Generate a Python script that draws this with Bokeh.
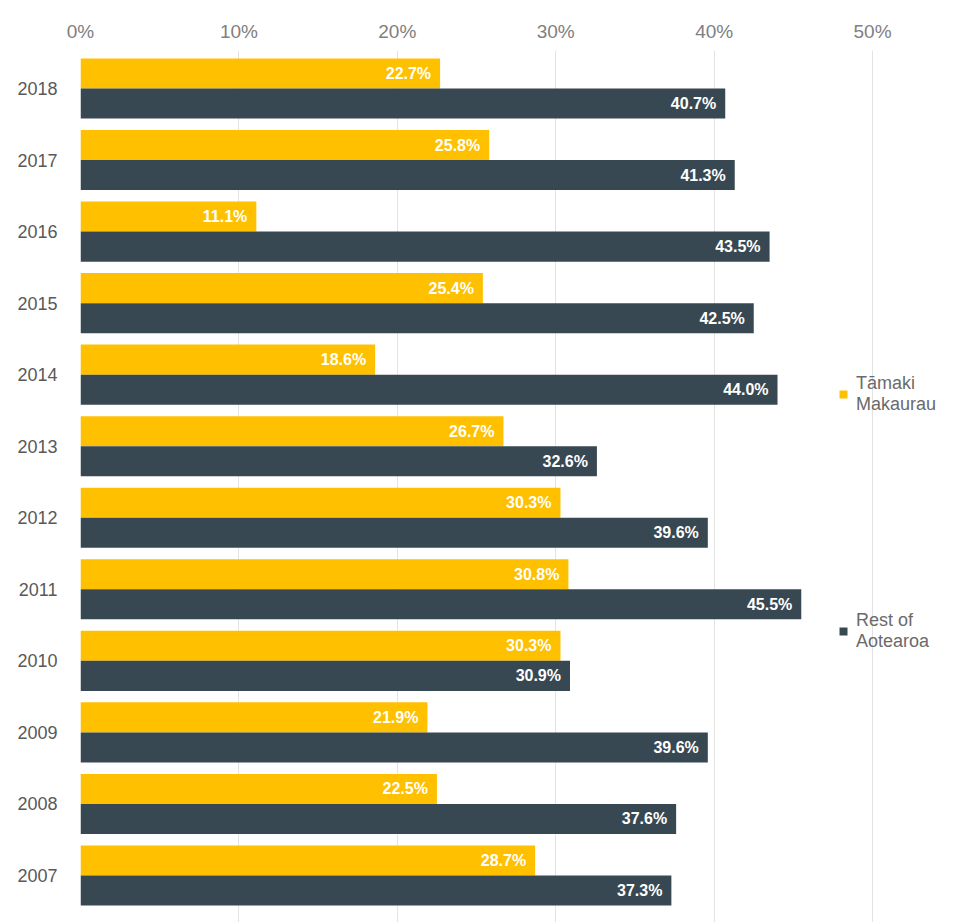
from bokeh.plotting import figure
from bokeh.models import ColumnDataSource, Range1d, FixedTicker, NumeralTickFormatter, Legend, LegendItem
from bokeh.embed import file_html
from bokeh.resources import INLINE
from bokeh.core.properties import value

years = ["2018", "2017", "2016", "2015", "2014", "2013", "2012", "2011", "2010", "2009", "2008", "2007"]
tamaki = [22.7, 25.8, 11.1, 25.4, 18.6, 26.7, 30.3, 30.8, 30.3, 21.9, 22.5, 28.7]
rest = [40.7, 41.3, 43.5, 42.5, 44.0, 32.6, 39.6, 45.5, 30.9, 39.6, 37.6, 37.3]
x_ticks = [0, 0.1, 0.2, 0.3, 0.4, 0.5]

YELLOW = "#FFC000"
DARK = "#384852"
FONT = "Liberation Sans"

pos = [-i for i in range(len(years))]
src_t = ColumnDataSource(dict(y=[p + 0.21 for p in pos], v=[t / 100 for t in tamaki],
                              lab=[f"{t:.1f}%" for t in tamaki]))
src_r = ColumnDataSource(dict(y=[p - 0.21 for p in pos], v=[r / 100 for r in rest],
                              lab=[f"{r:.1f}%" for r in rest]))

p = figure(width=966, height=922, output_backend="svg", toolbar_location=None,
           x_axis_location="above", x_range=Range1d(0, 0.5593),
           y_range=Range1d(-11.657, 0.531),
           min_border_left=80, min_border_right=0, min_border_top=50, min_border_bottom=0)
p.outline_line_color = None

r1 = p.hbar(y="y", left=0, right="v", height=0.42, source=src_t, fill_color=YELLOW, line_color=None)
r2 = p.hbar(y="y", left=0, right="v", height=0.42, source=src_r, fill_color=DARK, line_color=None)

for src in (src_t, src_r):
    p.text(x="v", y="y", text="lab", source=src, text_align="right", text_baseline="middle",
           x_offset=-9, text_color="white", text_font=value(FONT), text_font_style="bold",
           text_font_size="16px")

xa = p.xaxis[0]
xa.ticker = FixedTicker(ticks=x_ticks)
xa.formatter = NumeralTickFormatter(format="0%")
xa.axis_line_color = None
xa.major_tick_line_color = None
xa.minor_tick_line_color = None
xa.major_label_text_font = FONT
xa.major_label_text_font_size = "19px"
xa.major_label_text_color = "#808080"
xa.major_label_standoff = 3

ya = p.yaxis[0]
ya.ticker = FixedTicker(ticks=pos)
ya.major_label_overrides = {pp: y for pp, y in zip(pos, years)}
ya.axis_line_color = None
ya.major_tick_line_color = None
ya.minor_tick_line_color = None
ya.major_label_text_font = FONT
ya.major_label_text_font_size = "18px"
ya.major_label_text_color = "#595959"
ya.major_label_standoff = 17

p.xgrid.ticker = FixedTicker(ticks=x_ticks)
p.xgrid.grid_line_color = "#e3e3e3"
p.ygrid.grid_line_color = None

legend = Legend(items=[LegendItem(label="Tāmaki\nMakaurau", renderers=[r1]),
                       LegendItem(label="Rest of\nAotearoa", renderers=[r2])],
                location=(758, 270), orientation="vertical",
                glyph_width=10, glyph_height=10, spacing=195,
                label_text_font=FONT, label_text_font_size="18px", label_text_color="#6a6a6a",
                label_text_line_height=1.3,
                label_standoff=8, background_fill_alpha=0, border_line_color=None,
                padding=0, margin=0)
p.add_layout(legend)

open("out.html", "w").write(file_html(p, INLINE))
